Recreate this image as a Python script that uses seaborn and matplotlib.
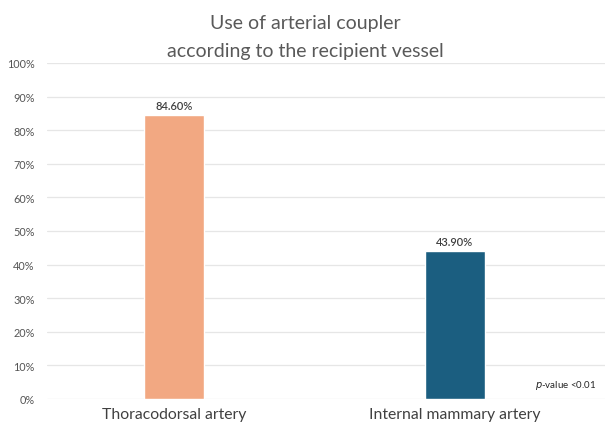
import matplotlib
matplotlib.use("Agg")
import matplotlib.pyplot as plt
import seaborn as sns
import pandas as pd

categories = ["Thoracodorsal artery", "Internal mammary artery"]
values = [84.6, 43.9]
bar_labels = ["84.60%", "43.90%"]
colors = ["#F2A882", "#1B5E80"]
yticks = [0, 10, 20, 30, 40, 50, 60, 70, 80, 90, 100]

sns.set_theme(style="white")
plt.rcParams['font.family'] = ['Lato', 'DejaVu Sans']

df = pd.DataFrame({"vessel": categories, "pct": values})

W, H = 608, 427
fig = plt.figure(figsize=(W / 100, H / 100), dpi=100)
ax = fig.add_axes([47 / W, (H - 400) / H, (605 - 47) / W, (400 - 64) / H])

sns.barplot(data=df, x="vessel", y="pct", hue="vessel", palette=colors,
            legend=False, width=0.214, ax=ax, saturation=1)

ax.set_ylim(0, 100)
ax.set_xlim(-0.452, 1.534)
ax.set_yticks(yticks)
ax.set_yticklabels([f"{t}%" for t in yticks], fontsize=7.8, color="#555555")
ax.tick_params(axis="y", length=0, pad=9)
ax.tick_params(axis="x", length=0, pad=6)
ax.set_xticks(range(len(categories)))
ax.set_xticklabels(categories, fontsize=11.3, color="#404040")
ax.set_xlabel("")
ax.set_ylabel("")
ax.grid(axis="y", color="#E6E6E6", linewidth=0.9)
ax.set_axisbelow(True)
for s in ax.spines.values():
    s.set_visible(False)

for i, (v, lab) in enumerate(zip(values, bar_labels)):
    ax.text(i, v + 1.2, lab, ha="center", va="bottom", fontsize=8,
            fontweight="semibold", color="#404040")

ax.text(0.985, 0.025, r"$\it{p}$-value <0.01", transform=ax.transAxes,
        ha="right", va="bottom", fontsize=7, color="#262626")

fig.text(305 / W, 1 - 24 / H, "Use of arterial coupler", ha="center", va="center",
         fontsize=14, color="#595959")
fig.text(305 / W, 1 - 51 / H, "according to the recipient vessel", ha="center", va="center",
         fontsize=14, color="#595959")

fig.savefig("out.png", dpi=100, facecolor="white")
